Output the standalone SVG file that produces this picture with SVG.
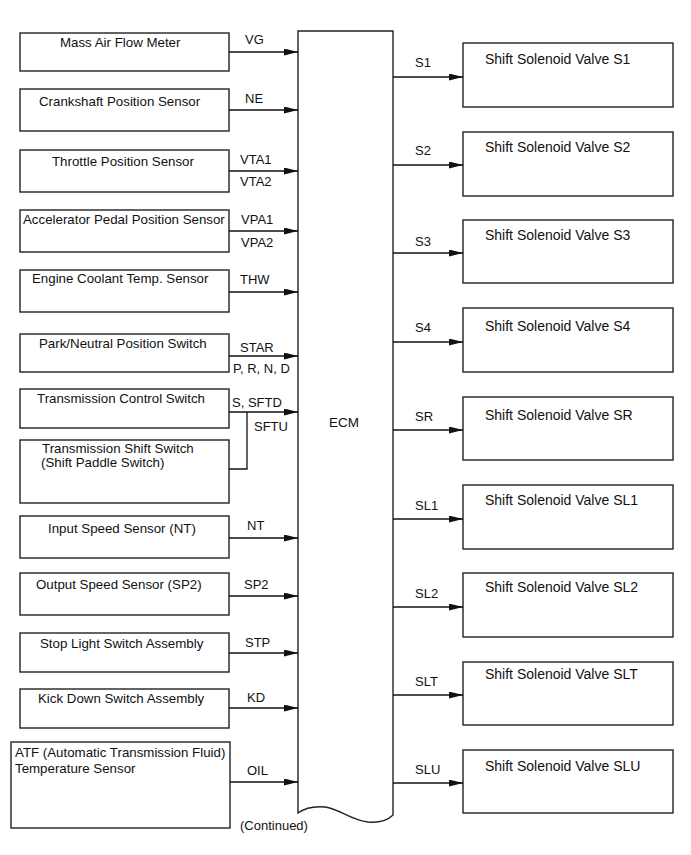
<svg xmlns="http://www.w3.org/2000/svg" width="691" height="855" viewBox="0 0 691 855">
<defs>
<marker id="ah" markerUnits="userSpaceOnUse" markerWidth="14" markerHeight="7" refX="14" refY="3.5" orient="auto">
<path d="M0,0 L14,3.5 L0,7 z" fill="#111"/>
</marker>
<style>
text{font-family:"Liberation Sans",Arial,sans-serif;font-size:13px;fill:#111}
.l{font-size:13.3px}
.r{font-size:14px}
.box{fill:#fff;stroke:#222;stroke-width:1.4}
.ln{fill:none;stroke:#111;stroke-width:1.3}
.ar{fill:none;stroke:#111;stroke-width:1.3;marker-end:url(#ah)}
</style>
</defs>
<rect width="691" height="855" fill="#fff"/>

<g id="ecm">
<path class="box" d="M298,813 L298,31 L393,31 L393,815 C388,820 380,823 368,822 C350,820 340,809 325,807 C315,806 305,808 298,813 Z"/>
<text x="329" y="427" style="font-size:13.5px">ECM</text>
<text x="240" y="830">(Continued)</text>
</g>

<g id="maf"><rect class="box" x="20" y="33" width="209" height="38"/><text class="l" x="60" y="47">Mass Air Flow Meter</text></g>
<g id="ckp"><rect class="box" x="20" y="89" width="209" height="42"/><text class="l" x="39" y="106">Crankshaft Position Sensor</text></g>
<g id="tps"><rect class="box" x="20" y="150" width="209" height="42"/><text class="l" x="52" y="166">Throttle Position Sensor</text></g>
<g id="apps"><rect class="box" x="20" y="210" width="209" height="42"/><text class="l" x="23" y="224">Accelerator Pedal Position Sensor</text></g>
<g id="ect"><rect class="box" x="20" y="270" width="209" height="42"/><text class="l" x="32" y="283">Engine Coolant Temp. Sensor</text></g>
<g id="pnp"><rect class="box" x="20" y="334" width="209" height="38"/><text class="l" x="39" y="348">Park/Neutral Position Switch</text></g>
<g id="tcs"><rect class="box" x="20" y="389" width="209" height="39"/><text class="l" x="37" y="403">Transmission Control Switch</text></g>
<g id="tss"><rect class="box" x="20" y="440" width="209" height="63"/><text class="l" x="42" y="453">Transmission Shift Switch</text><text class="l" x="41" y="467">(Shift Paddle Switch)</text></g>
<g id="nt"><rect class="box" x="20" y="516" width="209" height="42"/><text class="l" x="48" y="533">Input Speed Sensor (NT)</text></g>
<g id="sp2"><rect class="box" x="20" y="573" width="209" height="42"/><text class="l" x="36" y="589">Output Speed Sensor (SP2)</text></g>
<g id="stp"><rect class="box" x="20" y="633" width="209" height="39"/><text class="l" x="40" y="648">Stop Light Switch Assembly</text></g>
<g id="kd"><rect class="box" x="20" y="689" width="209" height="39"/><text class="l" x="38" y="703">Kick Down Switch Assembly</text></g>
<g id="atf"><rect class="box" x="11" y="742" width="219" height="86"/><text class="l" x="15" y="757">ATF (Automatic Transmission Fluid)</text><text class="l" x="15" y="773">Temperature Sensor</text></g>

<g id="s1"><rect class="box" x="463" y="43" width="210" height="64"/><text class="r" x="485" y="64">Shift Solenoid Valve S1</text></g>
<g id="s2"><rect class="box" x="463" y="132" width="210" height="64"/><text class="r" x="485" y="152">Shift Solenoid Valve S2</text></g>
<g id="s3"><rect class="box" x="463" y="220" width="210" height="63"/><text class="r" x="485" y="240">Shift Solenoid Valve S3</text></g>
<g id="s4"><rect class="box" x="463" y="308" width="210" height="64"/><text class="r" x="485" y="331">Shift Solenoid Valve S4</text></g>
<g id="sr"><rect class="box" x="463" y="397" width="210" height="63"/><text class="r" x="485" y="420">Shift Solenoid Valve SR</text></g>
<g id="sl1"><rect class="box" x="463" y="485" width="210" height="64"/><text class="r" x="485" y="505">Shift Solenoid Valve SL1</text></g>
<g id="sl2"><rect class="box" x="463" y="573" width="210" height="64"/><text class="r" x="485" y="592">Shift Solenoid Valve SL2</text></g>
<g id="slt"><rect class="box" x="463" y="662" width="210" height="63"/><text class="r" x="485" y="679">Shift Solenoid Valve SLT</text></g>
<g id="slu"><rect class="box" x="463" y="750" width="210" height="63"/><text class="r" x="485" y="771">Shift Solenoid Valve SLU</text></g>

<g id="connectors">
<line class="ar" x1="229" y1="52" x2="298" y2="52"/>
<line class="ar" x1="229" y1="110" x2="298" y2="110"/>
<line class="ar" x1="229" y1="171" x2="298" y2="171"/>
<line class="ar" x1="229" y1="231" x2="298" y2="231"/>
<line class="ar" x1="229" y1="292" x2="298" y2="292"/>
<line class="ar" x1="229" y1="356" x2="298" y2="356"/>
<line class="ar" x1="229" y1="412" x2="298" y2="412"/>
<polyline class="ln" points="229,469 247,469 247,412"/>
<line class="ar" x1="229" y1="538" x2="298" y2="538"/>
<line class="ar" x1="229" y1="596" x2="298" y2="596"/>
<line class="ar" x1="229" y1="653" x2="298" y2="653"/>
<line class="ar" x1="229" y1="708" x2="298" y2="708"/>
<line class="ar" x1="230" y1="782" x2="298" y2="782"/>

<line class="ar" x1="393" y1="77" x2="463" y2="77"/>
<line class="ar" x1="393" y1="165" x2="463" y2="165"/>
<line class="ar" x1="393" y1="253" x2="463" y2="253"/>
<line class="ar" x1="393" y1="342" x2="463" y2="342"/>
<line class="ar" x1="393" y1="430" x2="463" y2="430"/>
<line class="ar" x1="393" y1="519" x2="463" y2="519"/>
<line class="ar" x1="393" y1="607" x2="463" y2="607"/>
<line class="ar" x1="393" y1="695" x2="463" y2="695"/>
<line class="ar" x1="393" y1="783" x2="463" y2="783"/>

<text x="245" y="44">VG</text>
<text x="245" y="103">NE</text>
<text x="240" y="164">VTA1</text>
<text x="240" y="186">VTA2</text>
<text x="241" y="224">VPA1</text>
<text x="241" y="247">VPA2</text>
<text x="240" y="284">THW</text>
<text x="240" y="352">STAR</text>
<text x="233" y="373">P, R, N, D</text>
<text x="232" y="407">S, SFTD</text>
<text x="254" y="431">SFTU</text>
<text x="247" y="530">NT</text>
<text x="244" y="589">SP2</text>
<text x="245" y="647">STP</text>
<text x="247" y="702">KD</text>
<text x="247" y="775">OIL</text>

<text x="415" y="67">S1</text>
<text x="415" y="155">S2</text>
<text x="415" y="246">S3</text>
<text x="415" y="332">S4</text>
<text x="415" y="421">SR</text>
<text x="415" y="510">SL1</text>
<text x="415" y="598">SL2</text>
<text x="415" y="686">SLT</text>
<text x="415" y="774">SLU</text>
</g>
</svg>
